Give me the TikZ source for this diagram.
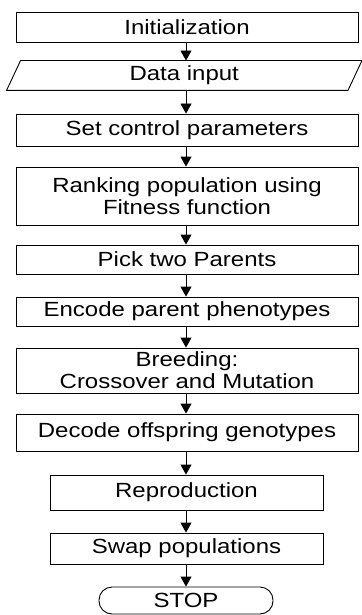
\documentclass[tikz,border=0pt]{standalone}
\usepackage{fontspec}
\setmainfont[FakeStretch=1.17]{Liberation Sans}
\usetikzlibrary{arrows.meta, positioning}
\definecolor{cline}{HTML}{000000}
\tikzset{
  every picture/.style={font=\fontsize{20.5}{22}\selectfont, line width=0.9pt},
  box/.style={draw=cline, fill=white, align=center, inner sep=2pt, minimum width=#1},
  box/.default=342pt,
  io/.style={align=center, inner sep=2pt, minimum width=340.5pt, minimum height=29pt},
  term/.style={draw=cline, rounded corners=13pt, minimum width=174pt, minimum height=27pt, inner sep=2pt},
  arrow/.style={-{Triangle[length=10pt, width=11pt]}, draw=cline, line width=0.9pt},
}

\begin{document}
\begin{tikzpicture}[x=1pt, y=1pt]
  \useasboundingbox (0,0) rectangle (361,-615);
  % process steps
  \node[box, minimum height=30pt] (init) at (187,-27) {Initialization};
  \node[io] (data) at (184.25,-75.5) {Data input};
  \draw[cline] ([xshift=-7pt]data.south west) -- ([xshift=-7pt]data.south east)
    -- ([xshift=7pt]data.north east) -- ([xshift=7pt]data.north west) -- cycle;
  \node[box, minimum height=32pt] (setp) at (187,-130) {Set control parameters};
  \node[box, minimum height=58pt] (rank) at (187,-196) {Ranking population using\\Fitness function};
  \node[box, minimum height=29pt] (pick) at (187,-259.5) {Pick two Parents};
  \node[box, minimum height=29pt] (enc) at (187,-311.5) {Encode parent phenotypes};
  \node[box, minimum height=45pt] (breed) at (187,-370.5) {Breeding:\\Crossover and Mutation};
  \node[box, minimum height=37pt] (dec) at (187,-432.5) {Decode offspring genotypes};
  \node[box=273pt, minimum height=35pt] (repro) at (186.5,-492.5) {Reproduction};
  \node[box=273pt, minimum height=31pt] (swap) at (186.5,-548.5) {Swap populations};
  \node[term] (stop) at (186,-600.5) {STOP};
  % connectors
  \foreach \a/\b in {init/data, data/setp, setp/rank, rank/pick, pick/enc, enc/breed, breed/dec, dec/repro, repro/swap, swap/stop}
    \draw[arrow] (\a.south -| stop) -- (\b.north -| stop);
\end{tikzpicture}
\end{document}
